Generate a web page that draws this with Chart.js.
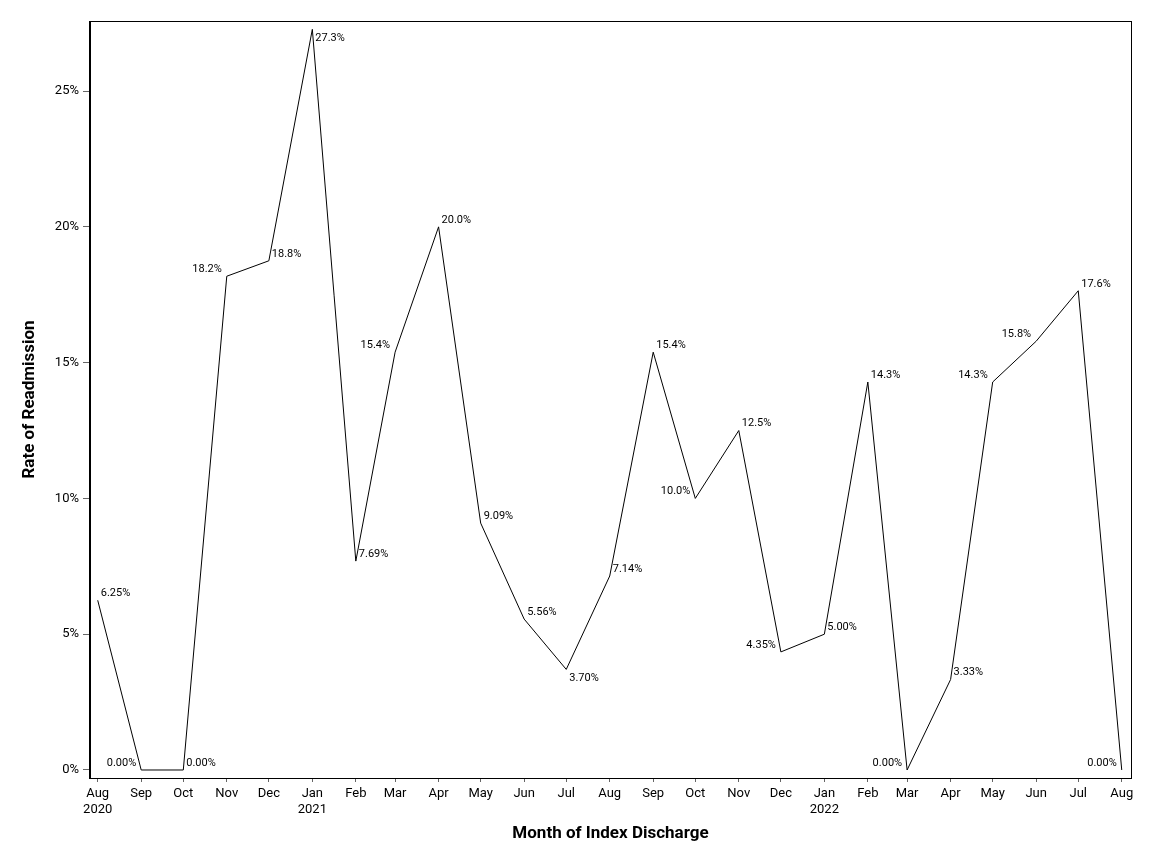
<!DOCTYPE html>
<html>
<head>
<meta charset="utf-8">
<script src="https://cdn.jsdelivr.net/npm/chart.js@4"></script>
<style>
  html, body { margin: 0; padding: 0; background: #fff; }
  canvas { display: block; }
</style>
</head>
<body>
<canvas id="rateChart" width="1152" height="864"></canvas>
<script>
// month of index discharge (first day of month)
var months = ['2020-08', '2020-09', '2020-10', '2020-11', '2020-12',
              '2021-01', '2021-02', '2021-03', '2021-04', '2021-05', '2021-06', '2021-07',
              '2021-08', '2021-09', '2021-10', '2021-11', '2021-12',
              '2022-01', '2022-02', '2022-03', '2022-04', '2022-05', '2022-06', '2022-07', '2022-08'];
// rate of readmission, percent
var rates = [6.25, 0, 0, 18.182, 18.75, 27.273, 7.692, 15.385, 20.0, 9.091, 5.556, 3.704,
             7.143, 15.385, 10.0, 12.5, 4.348, 5.0, 14.286, 0, 3.333, 14.286, 15.789, 17.647, 0];
// which side of the point each value label sits on
var labelSide = ['ne', 'nw', 'ne', 'nw', 'ne', 'se', 'ne', 'nw', 'ne', 'ne', 'ne', 'se',
                 'ne', 'ne', 'nw', 'ne', 'nw', 'ne', 'ne', 'nw', 'ne', 'nw', 'nw', 'ne', 'nw'];
var monthNames = ['Jan', 'Feb', 'Mar', 'Apr', 'May', 'Jun', 'Jul', 'Aug', 'Sep', 'Oct', 'Nov', 'Dec'];
var yTicks = [0, 5, 10, 15, 20, 25];

function dayNumber(ym) {
    var p = ym.split('-');
    return Date.UTC(+p[0], +p[1] - 1, 1) / 86400000;
}

var xDays = months.map(dayNumber);
var points = xDays.map(function (d, i) { return { x: d, y: rates[i] }; });

function monthLabel(day) {
    var i = xDays.indexOf(day);
    if (i < 0) return '';
    var p = months[i].split('-');
    var name = monthNames[+p[1] - 1];
    // year shown under the first month and every January
    if (i === 0 || p[1] === '01') return [name, p[0]];
    return name;
}

function fmtRate(v) {
    if (v === 0) return '0.00%';
    return (v < 10 ? v.toFixed(2) : v.toFixed(1)) + '%';
}

var framePlugin = {
    id: 'frameAndLabels',
    afterDatasetsDraw: function (chart) {
        var ctx = chart.ctx;
        var a = chart.chartArea;
        var xs = chart.scales.x, ys = chart.scales.y;
        ctx.save();
        // box round the plot
        ctx.strokeStyle = '#000';
        ctx.lineWidth = 1;
        ctx.strokeRect(Math.round(a.left) - 0.5, Math.round(a.top) + 0.5,
                       Math.round(a.right - a.left) + 1, Math.round(a.bottom - a.top));

        // value labels
        ctx.fillStyle = '#000';
        ctx.font = '11px Roboto';
        ctx.textBaseline = 'middle';
        points.forEach(function (p, i) {
            var px = xs.getPixelForValue(p.x);
            var py = ys.getPixelForValue(p.y);
            var side = labelSide[i];
            var tx, ty;
            if (side === 'nw') {
                ctx.textAlign = 'right';
                tx = px - 5;
            } else {
                ctx.textAlign = 'left';
                tx = px + 3;
            }
            ty = side === 'se' ? py + 9 : py - 7;
            ctx.fillText(fmtRate(p.y), tx, ty);
        });

        // axis titles
        ctx.font = 'bold 17px Roboto';
        ctx.textAlign = 'center';
        ctx.fillText('Month of Index Discharge', (a.left + a.right) / 2, 834);
        ctx.translate(30, (a.top + a.bottom) / 2);
        ctx.rotate(-Math.PI / 2);
        ctx.fillText('Rate of Readmission', 0, 0);
        ctx.restore();
    }
};

var ctx = document.getElementById('rateChart').getContext('2d');
var rateChart = new Chart(ctx, {
    type: 'line',
    data: {
        datasets: [{
            label: 'Rate of Readmission',
            data: points,
            borderColor: '#000',
            borderWidth: 1,
            pointRadius: 0,
            tension: 0,
            fill: false
        }]
    },
    options: {
        responsive: false,
        animation: false,
        layout: { padding: { left: 0, top: 21, right: 21, bottom: 0 } },
        scales: {
            x: {
                type: 'linear',
                min: xDays[0] - 5.5,
                max: xDays[xDays.length - 1] + 6.6,
                afterBuildTicks: function (scale) {
                    scale.ticks = xDays.map(function (d) { return { value: d }; });
                },
                afterFit: function (scale) { scale.height = 86; },
                grid: { drawOnChartArea: false, drawTicks: true, tickLength: 4, tickColor: '#666' },
                border: { display: true, color: '#000', width: 1 },
                ticks: {
                    autoSkip: false,
                    maxRotation: 0,
                    padding: 4,
                    color: '#000',
                    font: { family: 'Roboto', size: 13, lineHeight: 1.23 },
                    callback: function (value) { return monthLabel(value); }
                }
            },
            y: {
                min: -0.295,
                max: 27.58,
                afterBuildTicks: function (scale) {
                    scale.ticks = yTicks.map(function (v) { return { value: v }; });
                },
                afterFit: function (scale) { scale.width = 90; },
                grid: { drawOnChartArea: false, drawTicks: true, tickLength: 7, tickColor: '#666' },
                border: { display: true, color: '#000', width: 1 },
                ticks: {
                    padding: 4,
                    color: '#000',
                    font: { family: 'Roboto', size: 13 },
                    callback: function (value) { return value + '%'; }
                }
            }
        },
        plugins: {
            legend: { display: false },
            tooltip: { enabled: false }
        }
    },
    plugins: [framePlugin]
});
</script>
</body>
</html>
